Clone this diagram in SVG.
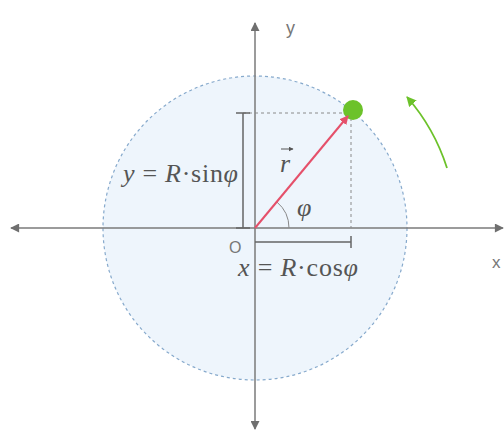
<svg xmlns="http://www.w3.org/2000/svg" width="504" height="435" viewBox="0 0 504 435">
<style>
.axis{stroke:#7a7a7a;stroke-width:1.5;fill:none}
.guide{stroke:#8a8a8a;stroke-width:1;stroke-dasharray:3 3;fill:none}
.bracket{stroke:#666;stroke-width:1.5;fill:none}
.formula{font-family:"Liberation Serif",serif;font-size:26px;fill:#555}
.lbl{font-family:"Liberation Sans",sans-serif;fill:#777}
.it{font-style:italic}
</style>
<defs>
<marker id="ah" viewBox="0 0 10 10" refX="9" refY="5" markerWidth="10" markerHeight="9" markerUnits="userSpaceOnUse" orient="auto">
<path d="M0,0 L10,5 L0,10 z" fill="#6f6f6f"/>
</marker>
<marker id="ahr" viewBox="0 0 10 10" refX="9" refY="5" markerWidth="9" markerHeight="9" markerUnits="userSpaceOnUse" orient="auto">
<path d="M0,0 L10,5 L0,10 z" fill="#e5506a"/>
</marker>
<marker id="ahg" viewBox="0 0 10 10" refX="9" refY="5" markerWidth="10" markerHeight="10" markerUnits="userSpaceOnUse" orient="auto">
<path d="M0,0 L10,5 L0,10 z" fill="#6cc22a"/>
</marker>
<marker id="ahs" viewBox="0 0 10 10" refX="9" refY="5" markerWidth="5" markerHeight="5" markerUnits="userSpaceOnUse" orient="auto">
<path d="M0,0 L10,5 L0,10 z" fill="#555"/>
</marker>
</defs>
<rect width="504" height="435" fill="#ffffff"/>
<g id="circle">
<circle cx="255" cy="228" r="152" fill="#eef5fc" stroke="#86a9cc" stroke-width="1.2" stroke-dasharray="3 3"/>
</g>
<g id="connectors">
<line class="axis" x1="255" y1="228" x2="11" y2="228" marker-end="url(#ah)"/>
<line class="axis" x1="255" y1="228" x2="503" y2="228" marker-end="url(#ah)"/>
<line class="axis" x1="255" y1="228" x2="255" y2="23" marker-end="url(#ah)"/>
<line class="axis" x1="255" y1="228" x2="255" y2="429" marker-end="url(#ah)"/>
<line class="guide" x1="243" y1="113" x2="350" y2="113"/>
<line class="guide" x1="351" y1="118" x2="351" y2="228"/>
<path class="bracket" d="M243,113 V228 M236,113 H250 M236,228 H250"/>
<path class="bracket" d="M255,242 H351 M351,236 V248"/>
<path d="M289,228 A34,34 0 0 0 276.9,202" fill="none" stroke="#888" stroke-width="1"/>
<path d="M447,168 A200,200 0 0 0 407,97" fill="none" stroke="#6cc22a" stroke-width="1.8" marker-end="url(#ahg)"/>
</g>
<g id="point">
<circle cx="353" cy="110" r="10" fill="#6cc22a"/>
</g>
<g id="vector">
<line x1="255" y1="228" x2="348" y2="116" stroke="#e5506a" stroke-width="2" marker-end="url(#ahr)"/>
</g>
<g id="labels">
<text class="lbl" x="286" y="34" font-size="18">y</text>
<text class="lbl" x="492" y="268" font-size="17">x</text>
<text class="lbl" x="229" y="253" font-size="16">O</text>
<text class="formula" x="123" y="182" textLength="115" lengthAdjust="spacing"><tspan class="it">y</tspan> = <tspan class="it">R</tspan>·sin<tspan class="it">φ</tspan></text>
<text class="formula" x="238" y="276" textLength="120" lengthAdjust="spacing"><tspan class="it">x</tspan> = <tspan class="it">R</tspan>·cos<tspan class="it">φ</tspan></text>
<text class="formula it" x="280" y="172">r</text>
<line x1="281" y1="149" x2="293" y2="149" stroke="#555" stroke-width="1" marker-end="url(#ahs)"/>
<text class="formula it" x="297" y="216">φ</text>
</g>
</svg>
